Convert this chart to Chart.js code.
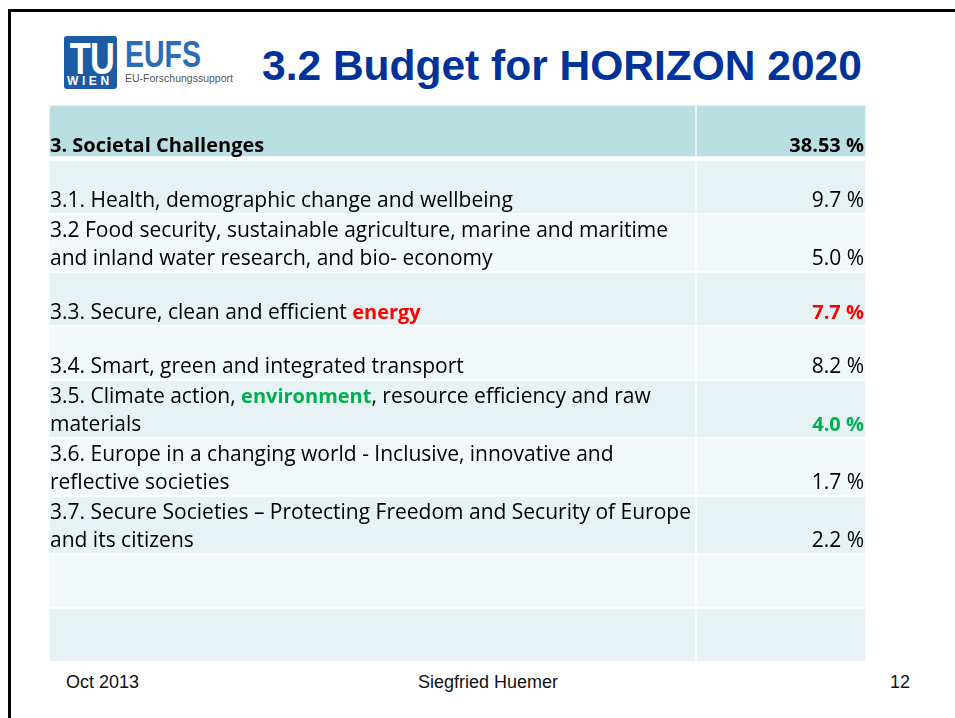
<!DOCTYPE html>
<html>
<head>
<meta charset="utf-8">
<title>3.2 Budget for HORIZON 2020</title>
<script src="https://cdn.jsdelivr.net/npm/chart.js@4.4.1/dist/chart.umd.min.js"></script>
<style>
  body { margin: 0; width: 955px; height: 718px; overflow: hidden; position: relative; background: #fff;
         font-family: "Liberation Sans", Arial, sans-serif; }
  .frame { position: absolute; left: 8px; top: 9px; width: 1000px; height: 1000px; border: 3px solid #000; }
  .tu { position: absolute; left: 64px; top: 36px; width: 53px; height: 53px; background: #1b5ca5; border-radius: 3px; color: #fff; }
  .tu .big { position: absolute; left: 0; top: 1px; width: 53px; text-align: center; font-weight: bold; font-size: 44px;
             line-height: 44px; transform: scaleX(0.78); letter-spacing: -1px; }
  .wien { position: absolute; left: 67px; top: 75px; font-weight: bold; font-size: 12px; line-height: 12px; color: #fff; letter-spacing: 3.6px; }
  .eufs { position: absolute; left: 125px; top: 36px; font-weight: bold; font-size: 37px; line-height: 37px; color: #2a6cb5;
          transform: scaleX(0.77); transform-origin: left top; }
  .sub { position: absolute; left: 125px; top: 72px; font-size: 10.5px; line-height: 12px; color: #555; }
  .title { position: absolute; left: 262px; top: 44px; font-weight: bold; font-size: 42.5px; line-height: 43px; color: #003399; white-space: nowrap; }
  #table { position: absolute; left: 49px; top: 105px; }
  .foot { position: absolute; top: 673px; font-size: 18px; line-height: 18px; color: #111; white-space: nowrap; }
</style>
</head>
<body>
<div class="frame"></div>
<div class="tu"><div class="big">TU</div></div>
<div class="wien">WIEN</div>
<div class="eufs">EUFS</div>
<div class="sub">EU-Forschungssupport</div>
<div class="title">3.2 Budget for HORIZON 2020</div>
<canvas id="table" width="817" height="557"></canvas>
<div class="foot" style="left:66px">Oct 2013</div>
<div class="foot" style="left:488px; transform: translateX(-50%)">Siegfried Huemer</div>
<div class="foot" style="right:45px">12</div>
<script>
// table content
const headerLabel = '3. Societal Challenges';
const headerShare = 38.53;
const categories = [
  '3.1. Health, demographic change and wellbeing',
  '3.2 Food security, sustainable agriculture, marine and maritime\nand inland water research, and bio- economy',
  '3.3. Secure, clean and efficient *energy*',
  '3.4. Smart, green and integrated transport',
  '3.5. Climate action, *environment*, resource efficiency and raw\nmaterials',
  '3.6. Europe in a changing world - Inclusive, innovative and\nreflective societies',
  '3.7. Secure Societies \u2013 Protecting Freedom and Security of Europe\nand its citizens'
];
const shares = [9.7, 5.0, 7.7, 8.2, 4.0, 1.7, 2.2];
const blankRows = 2;

// highlighted rows (index into categories)
const accent = { 2: '#ff0000', 4: '#00b050' };

const TEXT_FONT = '"Open Sans"';
const TEXT_SIZE = 21;
const BOLD_SIZE = 20;
const LINE_GAP = 28;
const HEADER_FILL = '#b9dfe2';
const ROW_FILLS = ['#e6f2f4', '#f2f8fa'];

const rows = [{ text: headerLabel, value: headerShare.toFixed(2) + ' %', header: true }]
  .concat(categories.map((c, i) => ({ text: c, value: shares[i].toFixed(1) + ' %', color: accent[i] })))
  .concat(Array.from({ length: blankRows }, () => ({ text: '', value: '' })));

function rowHeight(r) {
  if (r.header) return 55;
  return r.text.split('\n').length > 1 ? 58 : 54;
}

function font(bold) {
  return bold ? 'bold ' + BOLD_SIZE + 'px ' + TEXT_FONT : TEXT_SIZE + 'px ' + TEXT_FONT;
}

const canvas = document.getElementById('table');
const totalHeight = rows.reduce((s, r) => s + rowHeight(r), 0);
canvas.height = totalHeight;

// two columns: label and value
const columns = [
  { center: 323.5, width: 647 },
  { center: 732, width: 170 }
];

const datasets = [];
rows.forEach((r, i) => {
  const fill = r.header ? HEADER_FILL : ROW_FILLS[(i + 1) % 2];
  columns.forEach(col => {
    datasets.push({
      data: [{ x: col.center, y: rowHeight(r) }],
      barThickness: col.width,
      backgroundColor: fill,
      borderColor: '#ffffff',
      borderWidth: { top: 1, left: 1, right: 1, bottom: r.header ? 4 : 1 },
      borderSkipped: false
    });
  });
});

function drawRich(ctx, line, x, y, color, bold) {
  const parts = line.split('*');
  parts.forEach((p, k) => {
    ctx.font = font(bold || k % 2 === 1);
    ctx.fillStyle = k % 2 === 1 ? color : '#000';
    ctx.fillText(p, x, y);
    x += ctx.measureText(p).width;
  });
}

const cellText = {
  id: 'cellText',
  afterDatasetsDraw(chart) {
    const ctx = chart.ctx;
    ctx.save();
    ctx.textBaseline = 'alphabetic';
    rows.forEach((r, i) => {
      const lab = chart.getDatasetMeta(2 * i).data[0].getProps(['x', 'y', 'base', 'width'], true);
      const val = chart.getDatasetMeta(2 * i + 1).data[0].getProps(['x', 'y', 'base', 'width'], true);
      const bottom = Math.max(lab.y, lab.base) - (r.header ? 4 : 1);
      const baseline = bottom - (r.header ? 4 : 6);
      const lines = r.text.split('\n');
      ctx.textAlign = 'left';
      lines.forEach((ln, k) => {
        drawRich(ctx, ln, lab.x - lab.width / 2 + 1, baseline - (lines.length - 1 - k) * LINE_GAP, r.color, r.header);
      });
      if (r.value) {
        ctx.textAlign = 'right';
        ctx.font = font(r.header || r.color);
        ctx.fillStyle = r.color || '#000';
        ctx.fillText(r.value, val.x + val.width / 2 - 2, baseline);
      }
    });
    ctx.restore();
  }
};

new Chart(canvas, {
  type: 'bar',
  data: { datasets: datasets },
  options: {
    responsive: false,
    animation: false,
    devicePixelRatio: 1,
    layout: { padding: 0 },
    plugins: { legend: { display: false }, tooltip: { enabled: false } },
    scales: {
      x: { type: 'linear', min: 0, max: canvas.width, offset: false, stacked: true, display: false },
      y: { type: 'linear', min: 0, max: totalHeight, stacked: true, reverse: true, display: false }
    }
  },
  plugins: [cellText]
});
</script>
</body>
</html>
